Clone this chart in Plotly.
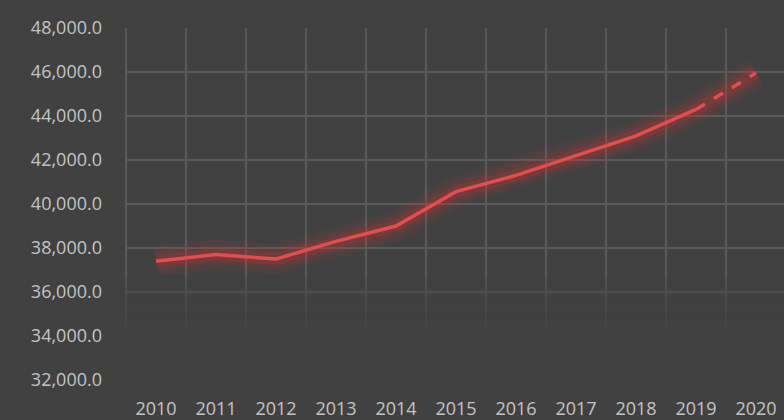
import plotly.graph_objects as go

years = ["2010", "2011", "2012", "2013", "2014", "2015", "2016", "2017", "2018", "2019", "2020"]
values = [37400, 37700, 37500, 38300, 39000, 40560, 41300, 42200, 43100, 44300, 45950]
solid_count = 10  # 2010-2019 solid, 2019-2020 dashed (forecast)

y_ticks = [32000, 34000, 36000, 38000, 40000, 42000, 44000, 46000, 48000]

BG = "#414141"
GRID = "#5a5a5a"
RED = "#e34d4d"
TXT = "#c4c4c4"

fig = go.Figure()

# glow layers
for w, a in [(30, 0.07), (20, 0.11), (12, 0.2)]:
    fig.add_trace(go.Scatter(x=years, y=values, mode="lines",
                             line=dict(color=f"rgba(220,50,50,{a})", width=w),
                             hoverinfo="skip", showlegend=False))

fig.add_trace(go.Scatter(x=years[:solid_count], y=values[:solid_count], mode="lines",
                         line=dict(color=RED, width=3.5), showlegend=False))
fig.add_trace(go.Scatter(x=years[solid_count - 1:], y=values[solid_count - 1:], mode="lines",
                         line=dict(color=RED, width=3.5, dash="dash"), showlegend=False))

# left boundary grid line (category boundary before first year)
fig.add_shape(type="line", xref="x", yref="paper", x0=-0.5, x1=-0.5, y0=0, y1=1,
              line=dict(color=GRID, width=2), layer="below")

# fade grid toward bottom
bands = [(36700, 36300, 0.35), (36300, 35900, 0.5), (35900, 35500, 0.62),
         (35500, 35100, 0.72), (35100, 34700, 0.82), (34700, 34300, 0.9),
         (34300, 33900, 0.96), (33900, 31000, 1.0)]
for top, bot, op in bands:
    fig.add_shape(type="rect", xref="paper", yref="y", x0=0, x1=1, y0=bot, y1=top,
                  fillcolor=BG, opacity=op, line=dict(width=0), layer="above")

fig.update_layout(
    width=784, height=420,
    paper_bgcolor=BG, plot_bgcolor=BG,
    margin=dict(l=125, r=0, t=28, b=38),
    font=dict(family="Open Sans", size=18, color=TXT),
    showlegend=False,
)
fig.update_xaxes(type="category", categoryorder="array", categoryarray=years,
                 range=[-0.5167, 10.467], tickson="boundaries",
                 showgrid=True, gridcolor=GRID, gridwidth=2,
                 showline=False, zeroline=False, ticks="", ticklabelstandoff=16,
                 fixedrange=True)
fig.update_yaxes(range=[32000, 48000], tickvals=y_ticks, tickformat=",.1f",
                 showgrid=True, gridcolor=GRID, gridwidth=2,
                 showline=False, zeroline=False, ticks="", ticklabelstandoff=22,
                 fixedrange=True)

fig.write_html("out.html", config={"displayModeBar": False},
               post_script="document.body.style.margin='0';document.body.style.background='#414141';")
